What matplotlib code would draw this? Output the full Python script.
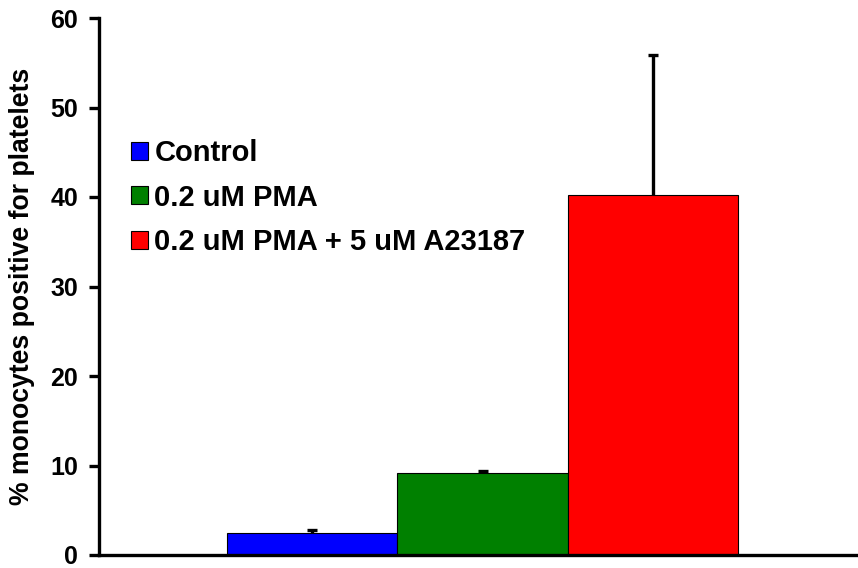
import matplotlib
matplotlib.use("Agg")
import matplotlib.pyplot as plt
import numpy as np

plt.rcParams["font.family"] = ["Liberation Sans", "DejaVu Sans"]
plt.rcParams["font.weight"] = "bold"

# Platelet-positive monocytes per treatment (mean and upper SEM)
groups = ["Control", "0.2 uM PMA", "0.2 uM PMA + 5 uM A23187"]
means = [2.45, 9.2, 40.25]
errors = [0.3, 0.22, 15.6]
colors = ["#0000ff", "#008000", "#ff0000"]
yticks = [0, 10, 20, 30, 40, 50, 60]

W, H = 858, 568
fig = plt.figure(figsize=(W / 100, H / 100), dpi=100)
ax = fig.add_axes([99 / W, 1 - 555 / H, (857 - 99) / W, (555 - 18) / H])

x = np.arange(len(groups))
for i in range(len(groups)):
    ax.bar(x[i], means[i], width=1.0, color=colors[i], edgecolor="black",
           linewidth=0.8, label=groups[i], zorder=2)
    # upper error only, cap drawn at the top end
    ax.errorbar(x[i], means[i], yerr=[[0], [errors[i]]], fmt="none",
                ecolor="black", elinewidth=2.4, capsize=0, zorder=3)
    ax.plot(x[i], means[i] + errors[i], marker="_", ms=7.2, mew=2.4,
            color="black", zorder=3)

ax.set_xlim(-0.5 - 128 / 170, 2.5 + 119 / 170)
ax.set_ylim(0, 60)
ax.set_yticks(yticks)
ax.set_yticklabels([str(t) for t in yticks], fontsize=18, fontweight="bold")
ax.set_xticks([])

for s in ["top", "right"]:
    ax.spines[s].set_visible(False)
for s in ["left", "bottom"]:
    ax.spines[s].set_linewidth(2.4)
ax.tick_params(axis="y", direction="out", length=7, width=2.4, pad=8)

ax.set_ylabel("% monocytes positive for platelets", fontsize=19.2,
              fontweight="bold")
ax.yaxis.set_label_coords(-0.084, 0.5)

leg = ax.legend(loc="upper left", bbox_to_anchor=(131 / W, 1 - 139 / H),
                bbox_transform=fig.transFigure, frameon=False,
                prop={"size": 21, "weight": "bold"},
                handlelength=0.58, handleheight=0.58, handletextpad=0.22,
                labelspacing=0.57, borderpad=0, borderaxespad=0)
for p in leg.get_patches():
    p.set_linewidth(0.8)

fig.savefig("out.png", dpi=100)
